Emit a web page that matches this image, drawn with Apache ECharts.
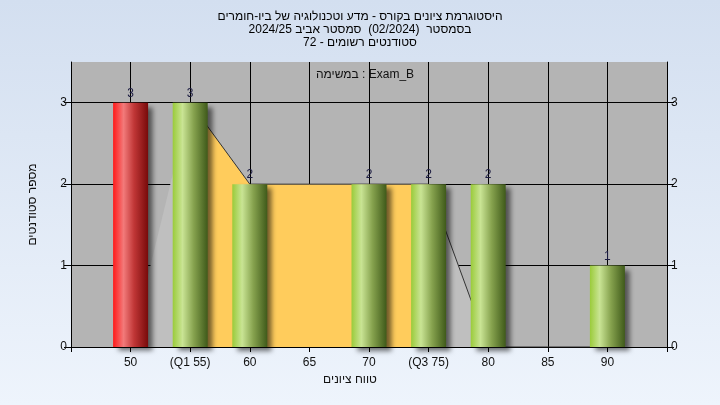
<!DOCTYPE html>
<html>
<head>
<meta charset="utf-8">
<script src="https://cdn.jsdelivr.net/npm/echarts@6/dist/echarts.min.js"></script>
<style>
html,body{margin:0;padding:0;}
#c{width:720px;height:405px;background:linear-gradient(180deg,#D3DFF0 0%,#EEF4FC 100%);}
</style>
</head>
<body>
<div id="c"></div>
<script>
// ---- data ----
const grades = [50, 55, 60, 65, 70, 75, 80, 85, 90];
const counts = [3, 3, 2, 0, 2, 2, 2, 0, 1];
const polygonValues = [0, 3, 2, 2, 2, 2, 0, 0, 0];
const q1 = 55, q3 = 75;
const failGrade = 50;
const yTicks = [0, 1, 2, 3];
const titleLines = [
  'היסטוגרמת ציונים בקורס - מדע וטכנולוגיה של ביו-חומרים',
  'בסמסטר  (02/2024)  סמסטר אביב 2024/25',
  'סטודנטים רשומים - 72'
];
const yName = 'מספר סטודנטים';
const xName = 'טווח ציונים';
const taskLabel = 'במשימה : Exam_B';

const FONT = 'Liberation Sans, Arial, sans-serif';

const greenGrad = new echarts.graphic.LinearGradient(0, 0, 1, 0, [
  {offset: 0, color: '#9ACB3A'},
  {offset: 0.28, color: '#C9E494'},
  {offset: 0.6, color: '#86A24E'},
  {offset: 1, color: '#3F5A1A'}
]);
const redGrad = new echarts.graphic.LinearGradient(0, 0, 1, 0, [
  {offset: 0, color: '#FF1A1A'},
  {offset: 0.3, color: '#F27A7A'},
  {offset: 0.6, color: '#C03636'},
  {offset: 1, color: '#780A0A'}
]);

const barData = [];
grades.forEach((g, i) => {
  if (counts[i] > 0) {
    barData.push({
      value: [g, counts[i]],
      itemStyle: {color: g === failGrade ? redGrad : greenGrad}
    });
  }
});
const polyData = grades.map((g, i) => [g, polygonValues[i]]);
const iqrData = polyData.filter(p => p[0] >= q1 && p[0] <= q3);
const outlineData = polyData.filter(p => p[0] >= q1);

function xLabel(v) {
  if (v === q1) return '(Q1 ' + v + ')';
  if (v === q3) return '(Q3 ' + v + ')';
  if (grades.indexOf(v) < 0) return '';
  return String(v);
}

function textEl(s, cx, cy, color) {
  return {type: 'text', x: cx, y: cy, z: 10,
    style: {text: s, fill: color, fontSize: 12, fontFamily: FONT, align: 'center', verticalAlign: 'middle'}};
}

const yAxisCommon = {
  type: 'value', min: 0, max: 3.5, interval: 1,
  axisLine: {show: true, lineStyle: {color: '#000', width: 1}},
  axisTick: {show: true, length: 7, lineStyle: {color: '#000'}, customValues: yTicks},
  axisLabel: {color: '#111', fontSize: 12, fontFamily: FONT, margin: 4, customValues: yTicks},
  splitLine: {show: false}
};

const graphics = titleLines.map((line, i) => textEl(line, 360, 17 + 13 * i, '#000'));
graphics.push(textEl(taskLabel, 365, 75, '#111'));
graphics.push(textEl(xName, 350, 380, '#111'));

const chart = echarts.init(document.getElementById('c'), null, {renderer: 'canvas'});
chart.setOption({
  animation: false,
  backgroundColor: 'transparent',
  grid: {left: 71, right: 53, top: 62, bottom: 58, show: true, backgroundColor: '#B4B4B4', borderWidth: 0},
  xAxis: {
    type: 'value', min: 45, max: 95, interval: 5,
    axisLine: {show: true, lineStyle: {color: '#000'}},
    axisTick: {show: true, length: 5, lineStyle: {color: '#000'}},
    axisLabel: {color: '#111', fontSize: 12, fontFamily: FONT, margin: 10, formatter: xLabel},
    splitLine: {show: true, lineStyle: {color: '#000', width: 1}}
  },
  yAxis: [
    Object.assign({}, yAxisCommon, {
      position: 'left',
      name: yName, nameLocation: 'middle', nameRotate: 90, nameGap: 32,
      nameTextStyle: {color: '#111', fontSize: 12, fontFamily: FONT},
      splitLine: {show: true, lineStyle: {color: '#000', width: 1}}
    }),
    Object.assign({}, yAxisCommon, {position: 'right'})
  ],
  series: [
    {
      type: 'line', data: polyData, z: 1, symbol: 'none',
      lineStyle: {width: 0, opacity: 0},
      areaStyle: {color: '#BFBFBF', opacity: 1}
    },
    {
      type: 'line', data: iqrData, z: 1, symbol: 'none',
      lineStyle: {width: 0, opacity: 0},
      areaStyle: {color: '#FFCC5C', opacity: 1}
    },
    {
      type: 'line', data: outlineData, z: 1, symbol: 'none',
      lineStyle: {color: '#333', width: 1}
    },
    {
      type: 'bar', data: barData, barWidth: 35, z: 3,
      itemStyle: {shadowColor: 'rgba(0,0,0,0.55)', shadowBlur: 5, shadowOffsetX: 5, shadowOffsetY: 4},
      label: {show: true, position: 'top', distance: 3, color: '#1a1a40', fontSize: 12, fontFamily: FONT,
        formatter: p => p.value[1]}
    }
  ],
  graphic: graphics
});
</script>
</body>
</html>
